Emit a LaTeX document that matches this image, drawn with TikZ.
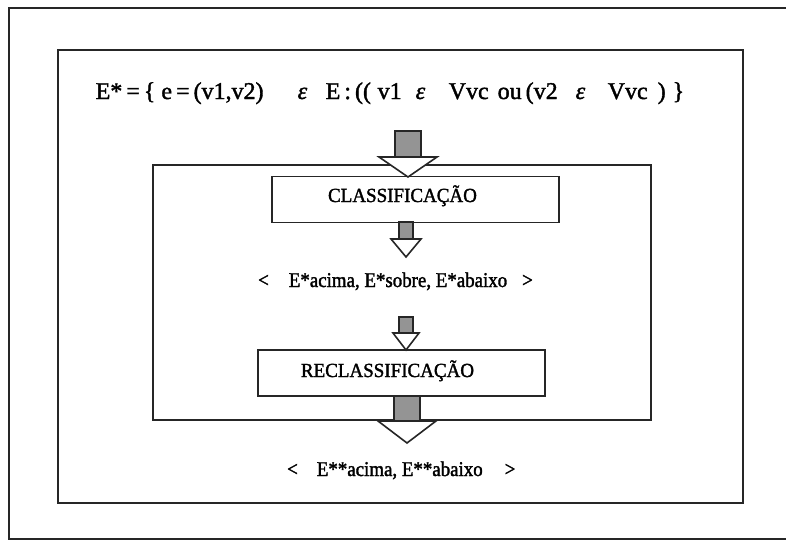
\documentclass[tikz,border=0pt]{standalone}
\usepackage{fontspec}
\setmainfont{Liberation Serif}
\newfontfamily\scanfont[FakeBold=1.6]{Liberation Serif}
\newfontfamily\scancond[FakeBold=1.6,FakeStretch=0.9]{Liberation Serif}
\newfontfamily\scanbox[FakeBold=1.6,FakeStretch=0.95]{Liberation Serif}
\newcommand\tabat[2]{\makebox[0pt][l]{\hspace*{#1}#2}}
\begin{document}
\begin{tikzpicture}[x=1pt,y=-1pt,
  frame/.style={draw=black!85,line width=1.8pt},
  procbox/.style={draw=black!85,line width=1.6pt,minimum width=287pt,minimum height=46pt,inner sep=0pt},
  boxtext/.style={anchor=base,inner sep=0pt,font=\scanbox\fontsize{20}{24}\selectfont},
  listtext/.style={anchor=base west,inner sep=0pt,font=\scancond\fontsize{21}{24}\selectfont},
  shaftfill/.style={fill=black!42,draw=black!85,line width=1.4pt},
  headfill/.style={fill=white,draw=black!85,line width=1.6pt,line join=miter}]
\useasboundingbox (0,0) rectangle (786,543);
\fill[white] (0,0) rectangle (786,543);
% outer frame (right side off the page)
\draw[frame,line width=2pt] (786,8) -- (9,8) -- (9,539) -- (786,539);
% inner frame
\draw[frame] (58,50) rectangle (743,503);
% middle frame
\draw[frame,line width=1.5pt] (153,165) rectangle (651,420);
% formula
\node[anchor=base west,inner sep=0pt,font=\scanfont\fontsize{24}{28}\selectfont] (formula) at (95,99)
  {\tabat{0pt}{E*\,=\,\{ e\,=\,(v1,v2)}%
   \tabat{202pt}{\itshape ε}%
   \tabat{230pt}{E\,:\,((}%
   \tabat{282pt}{v1}%
   \tabat{320pt}{\itshape ε}%
   \tabat{353pt}{Vvc}%
   \tabat{402pt}{ou}%
   \tabat{430pt}{(v2}%
   \tabat{480pt}{\itshape ε}%
   \tabat{512pt}{Vvc}%
   \tabat{562pt}{)}%
   \tabat{577pt}{\}}};
% boxes
\node[procbox] (cls) at (415.5,199.5) {};
\node[boxtext] (clst) at (402.5,202) {CLASSIFICAÇÃO};
\node[procbox] (rcls) at (401.5,373) {};
\node[boxtext] (rclst) at (387.5,377) {RECLASSIFICAÇÃO};
% texts
\node[listtext] (t1) at (258,287)
  {<\hspace{20pt}E*acima, E*sobre, E*abaixo\hspace{15pt}>};
\node[listtext] (t2) at (287,476)
  {<\hspace{19pt}E**acima, E**abaixo\hspace{22pt}>};
% block arrows
\newcommand\blockarrowdraw[6]{% cx, ytop, yhead, ytip, shaft half, head half
  \draw[shaftfill] ({#1-#5},#2) rectangle ({#1+#5},#3);
  \draw[headfill] ({#1-#6},#3) -- ({#1+#6},#3) -- (#1,#4) -- cycle;}
\blockarrowdraw{408}{131}{157}{177}{13}{29}
\blockarrowdraw{406}{222}{239}{257}{7}{15}
\blockarrowdraw{406}{317}{333}{350}{7}{13}
\blockarrowdraw{407}{396}{421}{443}{13}{29}
\end{tikzpicture}
\end{document}
